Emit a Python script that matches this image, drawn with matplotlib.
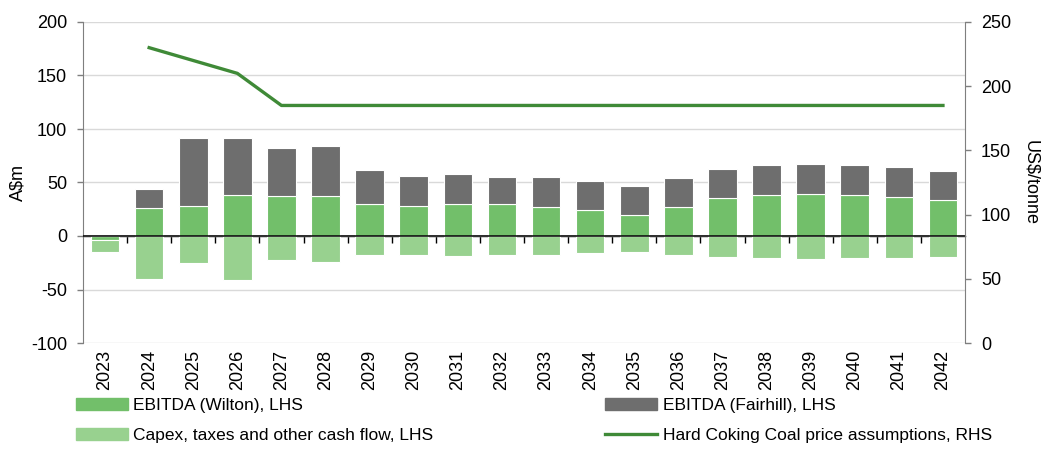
import numpy as np
import matplotlib
matplotlib.use("Agg")
import matplotlib.pyplot as plt
from matplotlib.patches import Patch
from matplotlib.lines import Line2D

plt.rcParams['font.family'] = ['Liberation Sans', 'DejaVu Sans']
plt.rcParams['axes.unicode_minus'] = False

years = [str(y) for y in range(2023, 2043)]
wilton = [-4, 26, 28, 38, 37, 37, 30, 28, 30, 29.5, 27.5, 24, 20, 27, 35.5, 38.5, 39.5, 38, 36.5, 33.5]
fairhill = [0, 18, 64, 54, 45, 47, 32, 28, 28, 25.5, 27.5, 27, 27, 27.5, 27, 27.5, 28, 28, 28, 27.5]
capex = [-11, -40, -25.5, -41.5, -22, -24, -18, -17.5, -18.5, -17.5, -17.5, -16, -15, -18, -20, -21, -21.5, -21, -20.5, -19.5]
price = [np.nan, 230, 220, 210, 185, 185, 185, 185, 185, 185, 185, 185, 185, 185, 185, 185, 185, 185, 185, 185]

c_wilton = '#72BF6A'
c_fair = '#6E6E6E'
c_capex = '#98D18F'
c_line = '#3F8A37'

fig = plt.figure(figsize=(10.53, 4.49), dpi=100)
ax = fig.add_axes([83/1053, 1-343/449, (965-83)/1053, (343-22)/449])
x = np.arange(len(years))
w_arr = np.array(wilton, dtype=float)
f_arr = np.array(fairhill, dtype=float)
c_arr = np.array(capex, dtype=float)
bw = 0.65
ax.bar(x, w_arr, bw, color=c_wilton, edgecolor='white', linewidth=0.8, zorder=3)
ax.bar(x, f_arr, bw, bottom=np.maximum(w_arr, 0), color=c_fair, edgecolor='white', linewidth=0.8, zorder=3)
ax.bar(x, c_arr, bw, bottom=np.minimum(w_arr, 0), color=c_capex, edgecolor='white', linewidth=0.8, zorder=3)
ax.axhline(0, color='black', linewidth=1.1, zorder=5)

ax.set_xlim(-0.5, len(years) - 0.5)
ax.set_ylim(-100, 200)
ax.set_yticks(np.arange(-100, 201, 50))
ax.yaxis.grid(True, color='#D9D9D9', linewidth=1.0, zorder=0)
ax.set_axisbelow(True)
ax.set_xticks(x)
ax.set_xticklabels(years, rotation=90)
ax.tick_params(axis='x', length=0, pad=5, labelsize=13)
ax.tick_params(axis='y', length=4.5, width=1, color='#7F7F7F', labelsize=13, pad=7)
for s in ['top', 'bottom', 'right']:
    ax.spines[s].set_visible(False)
ax.spines['left'].set_color('#7F7F7F')
ax.set_ylabel('A$m', fontsize=13, labelpad=3)

# zero axis with boundary ticks
sec = ax.secondary_xaxis(1/3)
sec.set_xticks(np.arange(0.5, len(years) - 0.5, 1.0))
sec.tick_params(axis='x', direction='out', length=5, width=1, color='black', labelbottom=False, labeltop=False)
sec.spines['bottom'].set_color('black')
sec.spines['bottom'].set_linewidth(1)

ax2 = ax.twinx()
ax2.plot(x, price, color=c_line, linewidth=2.4, zorder=4)
ax2.set_ylim(0, 250)
ax2.set_yticks(np.arange(0, 251, 50))
ax2.tick_params(axis='y', length=4.5, width=1, color='#7F7F7F', labelsize=13, pad=7)
for s in ['top', 'bottom', 'left']:
    ax2.spines[s].set_visible(False)
ax2.spines['right'].set_color('#7F7F7F')
ax2.set_ylabel('US$/tonne', fontsize=13, rotation=270, labelpad=20)

handles = [Patch(color=c_wilton), Patch(color=c_capex), Patch(color=c_fair), Line2D([], [], color=c_line, linewidth=2.4)]
labels = ['EBITDA (Wilton), LHS', 'Capex, taxes and other cash flow, LHS',
          'EBITDA (Fairhill), LHS', 'Hard Coking Coal price assumptions, RHS']
fig.legend(handles, labels, ncol=2, loc='upper left', bbox_to_anchor=(76/1053, 1-398/449),
           frameon=False, fontsize=12.5, handlelength=3.0, handleheight=0.7, handletextpad=0.3,
           columnspacing=9.9, labelspacing=0.85, borderaxespad=0, borderpad=0)

fig.savefig('out.png', dpi=100)
